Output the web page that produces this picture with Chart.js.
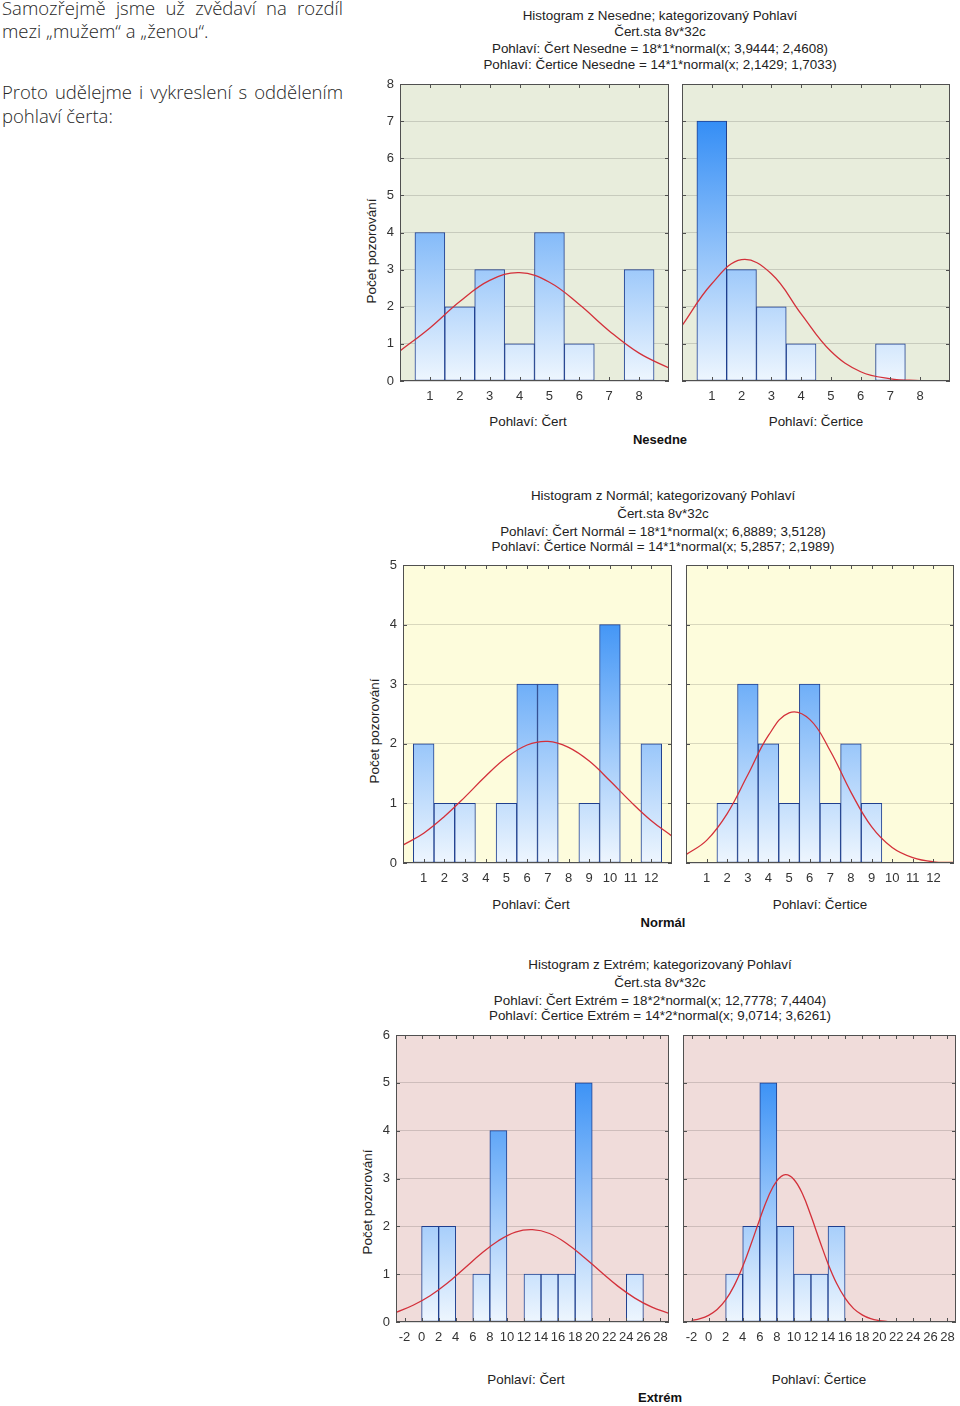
<!DOCTYPE html>
<html lang="cs">
<head>
<meta charset="utf-8">
<title>Histogramy - Pohlaví</title>
<script src="https://cdn.jsdelivr.net/npm/chart.js@4.4.0/dist/chart.umd.min.js"></script>
<style>
  html, body { margin: 0; padding: 0; background: #fff; }
  body { position: relative; width: 960px; height: 1406px; overflow: hidden;
         font-family: "Liberation Sans", Arial, sans-serif; }
  .txt { position: absolute; left: 2px; font-family: "Open Sans", "Noto Sans", sans-serif;
         font-weight: 300; font-size: 18.5px; line-height: 24px; color: #262626; white-space: nowrap; }
  .just { width: 341px; white-space: normal; text-align: justify; text-align-last: justify; }
  .t { position: absolute; font-size: 13.4px; color: #222; white-space: nowrap;
       transform: translate(-50%, -50%); }
  .b { font-weight: bold; color: #111; font-size: 13px; }
  .yl { position: absolute; font-size: 13.5px; color: #222; white-space: nowrap;
        transform: translate(-50%, -50%) rotate(-90deg); }
  canvas { position: absolute; }
</style>
</head>
<body>

<div class="txt just" style="top:-4px">Samozřejmě jsme už zvědaví na rozdíl</div>
<div class="txt" style="top:19px">mezi „mužem“ a „ženou“.</div>
<div class="txt just" style="top:80px">Proto udělejme i vykreslení s oddělením</div>
<div class="txt" style="top:104px">pohlaví čerta:</div>

<!-- Nesedne -->
<div class="t" style="left:660px;top:15px">Histogram z Nesedne; kategorizovaný Pohlaví</div>
<div class="t" style="left:660px;top:31px">Čert.sta 8v*32c</div>
<div class="t" style="left:660px;top:48px">Pohlaví: Čert Nesedne = 18*1*normal(x; 3,9444; 2,4608)</div>
<div class="t" style="left:660px;top:64px">Pohlaví: Čertice Nesedne = 14*1*normal(x; 2,1429; 1,7033)</div>
<div class="yl" style="left:371px;top:251px">Počet pozorování</div>
<div class="t" style="left:528px;top:421px">Pohlaví: Čert</div>
<div class="t" style="left:816px;top:421px">Pohlaví: Čertice</div>
<div class="t b" style="left:660px;top:439px">Nesedne</div>
<canvas id="nesCert"></canvas>
<canvas id="nesCertice"></canvas>

<!-- Normál -->
<div class="t" style="left:663px;top:495px">Histogram z Normál; kategorizovaný Pohlaví</div>
<div class="t" style="left:663px;top:513px">Čert.sta 8v*32c</div>
<div class="t" style="left:663px;top:531px">Pohlaví: Čert Normál = 18*1*normal(x; 6,8889; 3,5128)</div>
<div class="t" style="left:663px;top:546px">Pohlaví: Čertice Normál = 14*1*normal(x; 5,2857; 2,1989)</div>
<div class="yl" style="left:374px;top:731px">Počet pozorování</div>
<div class="t" style="left:531px;top:904px">Pohlaví: Čert</div>
<div class="t" style="left:820px;top:904px">Pohlaví: Čertice</div>
<div class="t b" style="left:663px;top:922px">Normál</div>
<canvas id="norCert"></canvas>
<canvas id="norCertice"></canvas>

<!-- Extrém -->
<div class="t" style="left:660px;top:964px">Histogram z Extrém; kategorizovaný Pohlaví</div>
<div class="t" style="left:660px;top:982px">Čert.sta 8v*32c</div>
<div class="t" style="left:660px;top:1000px">Pohlaví: Čert Extrém = 18*2*normal(x; 12,7778; 7,4404)</div>
<div class="t" style="left:660px;top:1015px">Pohlaví: Čertice Extrém = 14*2*normal(x; 9,0714; 3,6261)</div>
<div class="yl" style="left:367px;top:1202px">Počet pozorování</div>
<div class="t" style="left:526px;top:1379px">Pohlaví: Čert</div>
<div class="t" style="left:819px;top:1379px">Pohlaví: Čertice</div>
<div class="t b" style="left:660px;top:1397px">Extrém</div>
<canvas id="extCert"></canvas>
<canvas id="extCertice"></canvas>

<script>
// --- Nesedne ---
var nesBins = [1, 2, 3, 4, 5, 6, 7, 8];
var nesCertCounts = [4, 2, 3, 1, 4, 1, 0, 3];
var nesCerticeCounts = [7, 3, 2, 1, 0, 0, 1, 0];
var nesTicks = [1, 2, 3, 4, 5, 6, 7, 8];
var nesCertCurveX = [0, 1, 2, 3, 4, 5, 6, 7, 8, 9];
var nesCertCurve = [0.81, 1.43, 2.14, 2.71, 2.92, 2.66, 2.06, 1.35, 0.75, 0.35];
var nesCerticeCurveX = [0, 1, 2, 3, 4, 5, 6, 7, 8];
var nesCerticeCurve = [1.49, 2.62, 3.27, 2.89, 1.81, 0.80, 0.25, 0.06, 0.01];

// --- Normál ---
var norBins = [1, 2, 3, 4, 5, 6, 7, 8, 9, 10, 11, 12];
var norCertCounts = [2, 1, 1, 0, 1, 3, 3, 0, 1, 4, 0, 2];
var norCerticeCounts = [0, 1, 3, 2, 1, 3, 1, 2, 1, 0, 0, 0];
var norTicks = [1, 2, 3, 4, 5, 6, 7, 8, 9, 10, 11, 12];
var norCurveX = [0, 1, 2, 3, 4, 5, 6, 7, 8, 9, 10, 11, 12, 13];
var norCertCurve = [0.30, 0.50, 0.78, 1.11, 1.46, 1.77, 1.98, 2.04, 1.94, 1.71, 1.38, 1.03, 0.71, 0.45];
var norCerticeCurve = [0.14, 0.38, 0.83, 1.48, 2.14, 2.52, 2.41, 1.88, 1.19, 0.61, 0.26, 0.09, 0.02, 0.01];

// --- Extrém (třídy po 2) ---
var extBins = [1, 3, 5, 7, 9, 11, 13, 15, 17, 19, 21, 23, 25, 27];
var extCertCounts = [2, 2, 0, 1, 4, 0, 1, 1, 1, 5, 0, 0, 1, 0];
var extCerticeCounts = [0, 1, 2, 5, 2, 1, 1, 2, 0, 0, 0, 0, 0, 0];
var extTicks = [-2, 0, 2, 4, 6, 8, 10, 12, 14, 16, 18, 20, 22, 24, 26, 28];
var extCertCurveX = [-3, -1, 1, 3, 5, 7, 9, 11, 13, 15, 17, 19, 21, 23, 25, 27, 29];
var extCertCurve = [0.20, 0.35, 0.55, 0.81, 1.12, 1.43, 1.70, 1.88, 1.93, 1.85, 1.64, 1.36, 1.05, 0.75, 0.50, 0.31, 0.18];
var extCerticeCurveX = [-2, -1, 0, 1, 2, 3, 4, 5, 6, 7, 8, 9, 10, 11, 12, 13, 14, 15, 16, 17, 18, 19, 20, 21];
var extCerticeCurve = [0.03, 0.07, 0.14, 0.26, 0.46, 0.76, 1.16, 1.64, 2.15, 2.62, 2.95, 3.08, 2.98, 2.68, 2.22, 1.71, 1.22, 0.81, 0.50, 0.28, 0.15, 0.07, 0.03, 0.01];

// pozadí a rámeček grafu, krátké vnitřní značky os
var framePlugin = {
  id: 'frame',
  beforeDraw: function (chart, args, opts) {
    var a = chart.chartArea, c = chart.ctx;
    c.save();
    c.fillStyle = opts.bg;
    c.fillRect(a.left, a.top, a.right - a.left, a.bottom - a.top);
    c.restore();
  },
  afterDraw: function (chart) {
    var a = chart.chartArea, c = chart.ctx, sx = chart.scales.x, sy = chart.scales.y;
    c.save();
    c.strokeStyle = '#505050';
    c.lineWidth = 1;
    c.strokeRect(Math.round(a.left) + 0.5, Math.round(a.top) + 0.5,
                 Math.round(a.right - a.left) - 1, Math.round(a.bottom - a.top) - 1);
    c.beginPath();
    sx.ticks.forEach(function (t) {
      var px = Math.round(sx.getPixelForValue(t.value)) + 0.5;
      c.moveTo(px, a.bottom); c.lineTo(px, a.bottom - 4);
      c.moveTo(px, a.top); c.lineTo(px, a.top + 4);
    });
    sy.ticks.forEach(function (t) {
      var py = Math.round(sy.getPixelForValue(t.value)) + 0.5;
      c.moveTo(a.left, py); c.lineTo(a.left + 4, py);
      c.moveTo(a.right, py); c.lineTo(a.right - 4, py);
    });
    c.stroke();
    c.restore();
  }
};

function barFill(context) {
  var chart = context.chart, a = chart.chartArea;
  if (!a) return '#8fc3f8';
  var g = chart.ctx.createLinearGradient(0, a.bottom, 0, a.top);
  g.addColorStop(0, '#eef6fe');
  g.addColorStop(1, '#1a7ff4');
  return g;
}

function points(xs, ys) {
  return xs.map(function (x, i) { return { x: x, y: ys[i] }; });
}

function panel(id, p) {
  var yW = p.left ? 30 : 0, padTop = 10, padRight = 2, xH = 26;
  var cv = document.getElementById(id);
  cv.width = p.r - p.l + yW + padRight;
  cv.height = p.b - p.t + padTop + xH;
  cv.style.left = (p.l - yW) + 'px';
  cv.style.top = (p.t - padTop) + 'px';

  var font = { family: '"Liberation Sans", Arial, sans-serif', size: 13 };

  new Chart(cv, {
    type: 'bar',
    data: {
      datasets: [{
        type: 'line',
        data: points(p.curveX, p.curve),
        borderColor: '#d3303a',
        borderWidth: 1.3,
        pointRadius: 0,
        tension: 0.4,
        fill: false,
        order: 0
      }, {
        type: 'bar',
        data: points(p.bins, p.counts),
        backgroundColor: barFill,
        borderColor: '#1f3f8e',
        borderWidth: 1,
        borderSkipped: false,
        barPercentage: 1,
        categoryPercentage: 1,
        order: 1
      }]
    },
    options: {
      responsive: false,
      animation: false,
      events: [],
      layout: { padding: { top: padTop, right: padRight, left: 0, bottom: 0 } },
      plugins: {
        legend: { display: false },
        tooltip: { enabled: false },
        frame: { bg: p.bg }
      },
      scales: {
        x: {
          type: 'linear',
          min: p.xMin,
          max: p.xMax,
          offset: false,
          grid: { display: false, drawTicks: false, offset: false },
          border: { display: false },
          afterBuildTicks: function (s) {
            s.ticks = p.ticks.map(function (v) { return { value: v }; });
          },
          ticks: {
            autoSkip: false, maxRotation: 0, padding: 8, color: '#333', font: font,
            callback: function (v) { return String(v); }
          },
          afterFit: function (s) { s.height = xH; s.paddingLeft = 0; s.paddingRight = 0; }
        },
        y: {
          min: 0,
          max: p.yMax,
          grid: { color: 'rgba(0,0,0,0.14)', drawTicks: false },
          border: { display: false },
          ticks: { stepSize: 1, display: p.left, padding: 6, color: '#333', font: font },
          afterFit: function (s) { s.width = yW; s.paddingTop = 0; s.paddingBottom = 0; }
        }
      }
    },
    plugins: [framePlugin]
  });
}

document.addEventListener('DOMContentLoaded', function () {
  var bgNes = '#e8eddc', bgNor = '#fdfcdc', bgExt = '#f0dcda';

  panel('nesCert', { l: 400, t: 84, r: 669, b: 381, left: true, xMin: 0, xMax: 9, yMax: 8, bg: bgNes,
    ticks: nesTicks, bins: nesBins, counts: nesCertCounts, curveX: nesCertCurveX, curve: nesCertCurve });
  panel('nesCertice', { l: 682, t: 84, r: 950, b: 381, left: false, xMin: 0, xMax: 9, yMax: 8, bg: bgNes,
    ticks: nesTicks, bins: nesBins, counts: nesCerticeCounts, curveX: nesCerticeCurveX, curve: nesCerticeCurve });

  panel('norCert', { l: 403, t: 565, r: 672, b: 863, left: true, xMin: 0, xMax: 13, yMax: 5, bg: bgNor,
    ticks: norTicks, bins: norBins, counts: norCertCounts, curveX: norCurveX, curve: norCertCurve });
  panel('norCertice', { l: 686, t: 565, r: 954, b: 863, left: false, xMin: 0, xMax: 13, yMax: 5, bg: bgNor,
    ticks: norTicks, bins: norBins, counts: norCerticeCounts, curveX: norCurveX, curve: norCerticeCurve });

  panel('extCert', { l: 396, t: 1035, r: 669, b: 1322, left: true, xMin: -3, xMax: 29, yMax: 6, bg: bgExt,
    ticks: extTicks, bins: extBins, counts: extCertCounts, curveX: extCertCurveX, curve: extCertCurve });
  panel('extCertice', { l: 683, t: 1035, r: 956, b: 1322, left: false, xMin: -3, xMax: 29, yMax: 6, bg: bgExt,
    ticks: extTicks, bins: extBins, counts: extCerticeCounts, curveX: extCerticeCurveX, curve: extCerticeCurve });
});
</script>
</body>
</html>
